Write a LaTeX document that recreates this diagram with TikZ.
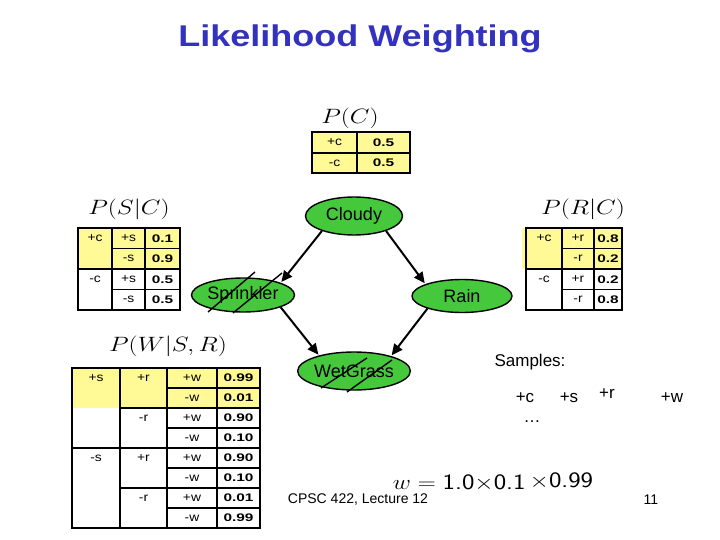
\documentclass[tikz,border=0pt]{standalone}
\usepackage[no-math]{fontspec}
\setmainfont{Liberation Sans}
\usepackage{graphicx}
\usetikzlibrary{shapes.geometric,arrows.meta}
\definecolor{titleblue}{RGB}{50,50,190}
\definecolor{nodegreen}{RGB}{70,200,60}
\definecolor{cellyellow}{RGB}{255,250,150}
\newcommand\tabtxt[1]{\scalebox{1.15}[1]{\fontsize{12}{14}\selectfont #1}}
\newcommand\tabnum[1]{\scalebox{1.4}[1]{\fontsize{11}{13}\selectfont\bfseries #1}}
\newcommand\mlbl[1]{\scalebox{1.23}[1]{$#1$}}
\begin{document}
\begin{tikzpicture}[x=1pt,y=-1pt,
  tabline/.style={line width=1.3pt, line cap=rect},
  tabt/.style={inner sep=0pt},
  mathlbl/.style={inner sep=0pt, font=\fontsize{22}{26}\selectfont},
  bnode/.style={ellipse, draw=black, line width=1.4pt, fill=nodegreen, inner sep=0pt, font=\fontsize{18}{20}\selectfont},
  hatch/.style={line width=1.4pt},
  arr/.style={-{Triangle[length=11pt,width=10pt]}, line width=2pt, shorten >=1pt},
  txt/.style={inner sep=0pt, font=\fontsize{17}{20}\selectfont}]
\useasboundingbox (0,0) rectangle (720,540);
\fill[white] (0,0) rectangle (720,540);

% title
\node[inner sep=0pt, text=titleblue, font=\fontsize{30}{34}\selectfont\bfseries] (title) at (360,39) {\scalebox{1.2}[1]{Likelihood Weighting}};

% ---------- P(C)
\node[mathlbl] (lpc) at (350,118) {\mlbl{P(C)}};
\fill[cellyellow] (312,132) rectangle (410,173);
\draw[tabline] (312,132) rectangle (410,173);
\draw[tabline] (357,132) -- (357,173);
\draw[tabline] (312,153) -- (410,153);
\node[tabt] (pc1) at (334.5,142.5) {\tabtxt{+c}};
\node[tabt] (pc2) at (383.5,142.5) {\tabnum{0.5}};
\node[tabt] (pc3) at (334.5,163) {\tabtxt{-c}};
\node[tabt] (pc4) at (383.5,163) {\tabnum{0.5}};

% ---------- P(S|C)
\node[mathlbl] (lps) at (129,209) {\mlbl{P(S|C)}};
\fill[cellyellow] (78,228) rectangle (180,269);
\draw[tabline] (78,228) rectangle (180,310);
\draw[tabline] (112,228) -- (112,310);
\draw[tabline] (145,228) -- (145,310);
\draw[tabline] (78,269) -- (180,269);
\draw[tabline] (112,248.5) -- (180,248.5);
\draw[tabline] (112,289.5) -- (180,289.5);
\node[tabt] (ps1) at (95,238.25) {\tabtxt{+c}};
\node[tabt] (ps2) at (95,279.25) {\tabtxt{-c}};
\node[tabt] (ps3) at (128.5,238.25) {\tabtxt{+s}};
\node[tabt] (ps4) at (128.5,258.75) {\tabtxt{-s}};
\node[tabt] (ps5) at (128.5,279.25) {\tabtxt{+s}};
\node[tabt] (ps6) at (128.5,299.75) {\tabtxt{-s}};
\node[tabt] (ps7) at (162.5,238.25) {\tabnum{0.1}};
\node[tabt] (ps8) at (162.5,258.75) {\tabnum{0.9}};
\node[tabt] (ps9) at (162.5,279.25) {\tabnum{0.5}};
\node[tabt] (ps10) at (162.5,299.75) {\tabnum{0.5}};

% ---------- P(R|C)
\node[mathlbl] (lpr) at (583,209) {\mlbl{P(R|C)}};
\fill[cellyellow] (522,228) rectangle (622,269);
\draw[tabline] (526,228) rectangle (622,310);
\draw[tabline] (562,228) -- (562,310);
\draw[tabline] (594,228) -- (594,310);
\draw[tabline] (526,269) -- (622,269);
\draw[tabline] (562,248.5) -- (622,248.5);
\draw[tabline] (562,289.5) -- (622,289.5);
\node[tabt] (pr1) at (544,238.25) {\tabtxt{+c}};
\node[tabt] (pr2) at (544,279.25) {\tabtxt{-c}};
\node[tabt] (pr3) at (578,238.25) {\tabtxt{+r}};
\node[tabt] (pr4) at (578,258.75) {\tabtxt{-r}};
\node[tabt] (pr5) at (578,279.25) {\tabtxt{+r}};
\node[tabt] (pr6) at (578,299.75) {\tabtxt{-r}};
\node[tabt] (pr7) at (608,238.25) {\tabnum{0.8}};
\node[tabt] (pr8) at (608,258.75) {\tabnum{0.2}};
\node[tabt] (pr9) at (608,279.25) {\tabnum{0.2}};
\node[tabt] (pr10) at (608,299.75) {\tabnum{0.8}};

% ---------- P(W|S,R)
\node[mathlbl] (lpw) at (168,346) {\mlbl{P(W|S,R)}};
\fill[cellyellow] (72,368) rectangle (260,408);
\draw[tabline] (72,368) rectangle (260,528);
\draw[tabline] (120,368) -- (120,528);
\draw[tabline] (167,368) -- (167,528);
\draw[tabline] (217,368) -- (217,528);
\draw[tabline] (72,448) -- (260,448);
\draw[tabline] (120,408) -- (260,408);
\draw[tabline] (120,488) -- (260,488);
\foreach \yy in {388,428,468,508} \draw[tabline] (167,\yy) -- (260,\yy);
\node[tabt] (pw1) at (96,378) {\tabtxt{+s}};
\node[tabt] (pw2) at (96,458) {\tabtxt{-s}};
\node[tabt] (pw3) at (143.5,378) {\tabtxt{+r}};
\node[tabt] (pw4) at (143.5,418) {\tabtxt{-r}};
\node[tabt] (pw5) at (143.5,458) {\tabtxt{+r}};
\node[tabt] (pw6) at (143.5,498) {\tabtxt{-r}};
\node[tabt] (pw7) at (192,378) {\tabtxt{+w}};
\node[tabt] (pw8) at (192,398) {\tabtxt{-w}};
\node[tabt] (pw9) at (192,418) {\tabtxt{+w}};
\node[tabt] (pw10) at (192,438) {\tabtxt{-w}};
\node[tabt] (pw11) at (192,458) {\tabtxt{+w}};
\node[tabt] (pw12) at (192,478) {\tabtxt{-w}};
\node[tabt] (pw13) at (192,498) {\tabtxt{+w}};
\node[tabt] (pw14) at (192,518) {\tabtxt{-w}};
\node[tabt] (pw15) at (238.5,378) {\tabnum{0.99}};
\node[tabt] (pw16) at (238.5,398) {\tabnum{0.01}};
\node[tabt] (pw17) at (238.5,418) {\tabnum{0.90}};
\node[tabt] (pw18) at (238.5,438) {\tabnum{0.10}};
\node[tabt] (pw19) at (238.5,458) {\tabnum{0.90}};
\node[tabt] (pw20) at (238.5,478) {\tabnum{0.10}};
\node[tabt] (pw21) at (238.5,498) {\tabnum{0.01}};
\node[tabt] (pw22) at (238.5,518) {\tabnum{0.99}};

% ---------- network
\node[bnode, minimum width=97pt, minimum height=38pt] (cloudy) at (354,216) {Cloudy};
\node[bnode, minimum width=103pt, minimum height=34pt] (sprinkler) at (243,295) {Sprinkler};
\node[bnode, minimum width=100pt, minimum height=33pt] (rain) at (462,296) {Rain};
\node[bnode, minimum width=97pt, minimum height=38pt] (wetgrass) at (354,371) {WetGrass};

\draw[hatch] (208,312) -- (255,272);
\draw[hatch] (233,313) -- (282,273);
\draw[hatch] (321,388) -- (367,358);
\draw[hatch] (347,392) -- (392,360);

\draw[arr] (cloudy.205) -- (sprinkler.18);
\draw[arr] (cloudy.335) -- (rain.162);
\draw[arr] (sprinkler.342) -- (wetgrass.156);
\draw[arr] (rain.200) -- (wetgrass.22);

% ---------- samples
\node[txt] (samples) at (530,362) {Samples:};
\node[txt] (sc) at (525,398) {+c};
\node[txt] (ss) at (569,398) {+s};
\node[txt] (sr) at (607,394) {+r};
\node[txt] (sw) at (672,398) {+w};
\node[txt] (sdots) at (532,422) {\dots};

% ---------- weight
\node[inner sep=0pt, font=\fontsize{22}{26}\selectfont] (weight) at (493,482)
  {\scalebox{1.2}[1]{$w = \mbox{\sffamily 1.0}{\times}\mbox{\sffamily 0.1}\,\raisebox{2pt}{${\times}\mbox{\sffamily 0.99}$}$}};

% ---------- footer
\node[inner sep=0pt, font=\fontsize{14}{16}\selectfont] (footer) at (358,500) {CPSC 422, Lecture 12};
\node[inner sep=0pt, font=\fontsize{14}{16}\selectfont] (pagenum) at (651,500) {11};
\end{tikzpicture}
\end{document}
